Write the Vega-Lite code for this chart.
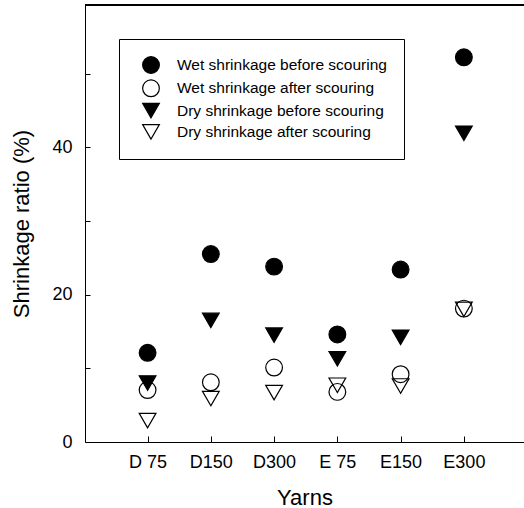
{
  "$schema": "https://vega.github.io/schema/vega-lite/v6.json",
  "width": 439,
  "height": 437,
  "autosize": "none",
  "padding": {"left": 85, "top": 5, "right": 0, "bottom": 66},
  "background": "white",
  "config": {
    "view": {"stroke": null},
    "font": "Liberation Sans",
    "axis": {
      "grid": false,
      "domainColor": "black",
      "domainWidth": 1,
      "tickColor": "black",
      "tickWidth": 1,
      "labelColor": "black",
      "titleColor": "black",
      "labelFont": "Liberation Sans",
      "titleFont": "Liberation Sans",
      "titleFontWeight": "normal",
      "labelFontSize": 18,
      "titleFontSize": 22
    },
    "legend": {
      "labelFont": "Liberation Sans"
    }
  },
  "data": {
    "values": [
      {"yarn": "D 75", "series": "Wet shrinkage before scouring", "ratio": 12.1},
      {"yarn": "D150", "series": "Wet shrinkage before scouring", "ratio": 25.5},
      {"yarn": "D300", "series": "Wet shrinkage before scouring", "ratio": 23.8},
      {"yarn": "E 75", "series": "Wet shrinkage before scouring", "ratio": 14.6},
      {"yarn": "E150", "series": "Wet shrinkage before scouring", "ratio": 23.4},
      {"yarn": "E300", "series": "Wet shrinkage before scouring", "ratio": 52.2},
      {"yarn": "D 75", "series": "Wet shrinkage after scouring", "ratio": 7.05},
      {"yarn": "D150", "series": "Wet shrinkage after scouring", "ratio": 8.1},
      {"yarn": "D300", "series": "Wet shrinkage after scouring", "ratio": 10.1},
      {"yarn": "E 75", "series": "Wet shrinkage after scouring", "ratio": 6.8},
      {"yarn": "E150", "series": "Wet shrinkage after scouring", "ratio": 9.2},
      {"yarn": "E300", "series": "Wet shrinkage after scouring", "ratio": 18.1},
      {"yarn": "D 75", "series": "Dry shrinkage before scouring", "ratio": 8.0},
      {"yarn": "D150", "series": "Dry shrinkage before scouring", "ratio": 16.5},
      {"yarn": "D300", "series": "Dry shrinkage before scouring", "ratio": 14.5},
      {"yarn": "E 75", "series": "Dry shrinkage before scouring", "ratio": 11.3},
      {"yarn": "E150", "series": "Dry shrinkage before scouring", "ratio": 14.2},
      {"yarn": "E300", "series": "Dry shrinkage before scouring", "ratio": 41.9},
      {"yarn": "D 75", "series": "Dry shrinkage after scouring", "ratio": 2.9},
      {"yarn": "D150", "series": "Dry shrinkage after scouring", "ratio": 5.9},
      {"yarn": "D300", "series": "Dry shrinkage after scouring", "ratio": 6.7},
      {"yarn": "E 75", "series": "Dry shrinkage after scouring", "ratio": 7.7},
      {"yarn": "E150", "series": "Dry shrinkage after scouring", "ratio": 7.6},
      {"yarn": "E300", "series": "Dry shrinkage after scouring", "ratio": 18.0}
    ]
  },
  "layer": [
    {
      "mark": {"type": "point", "filled": true, "strokeWidth": 1.2, "size": 280, "opacity": 1},
      "encoding": {
        "x": {
          "field": "yarn",
          "type": "nominal",
          "sort": ["D 75", "D150", "D300", "E 75", "E150", "E300"],
          "scale": {"type": "point", "padding": 0.97, "align": 0.51},
          "axis": {"title": "Yarns", "labelAngle": 0, "tickSize": -6, "labelPadding": 17, "titlePadding": 16}
        },
        "y": {
          "field": "ratio",
          "type": "quantitative",
          "scale": {"domain": [0, 59.3], "nice": false, "zero": true},
          "axis": {
            "title": "Shrinkage ratio (%)",
            "values": [0, 10, 20, 30, 40, 50],
            "labelExpr": "datum.value % 20 == 0 ? datum.label : ''",
            "tickSize": -5,
            "labelPadding": 18,
            "titlePadding": 18
          }
        },
        "shape": {
          "field": "series",
          "type": "nominal",
          "scale": {
            "domain": ["Wet shrinkage before scouring", "Wet shrinkage after scouring", "Dry shrinkage before scouring", "Dry shrinkage after scouring"],
            "range": ["circle", "circle", "triangle-down", "triangle-down"]
          },
          "legend": {
            "title": null,
            "orient": "none",
            "legendX": 34,
            "legendY": 34,
            "strokeColor": "black",
            "padding": 17,
            "labelFontSize": 15.5,
            "labelColor": "black",
            "symbolSize": 280,
            "symbolStrokeWidth": 1.2,
            "symbolOffset": 6,
            "labelOffset": 17,
            "rowPadding": 1.3,
            "labelLimit": 400
          }
        },
        "fill": {
          "field": "series",
          "type": "nominal",
          "scale": {
            "domain": ["Wet shrinkage before scouring", "Wet shrinkage after scouring", "Dry shrinkage before scouring", "Dry shrinkage after scouring"],
            "range": ["black", "transparent", "black", "transparent"]
          },
          "legend": {
            "title": null,
            "orient": "none",
            "legendX": 34,
            "legendY": 34,
            "strokeColor": "black",
            "padding": 17,
            "labelFontSize": 15.5,
            "labelColor": "black",
            "symbolSize": 280,
            "symbolStrokeWidth": 1.2,
            "symbolOffset": 6,
            "labelOffset": 17,
            "rowPadding": 1.3,
            "labelLimit": 400
          }
        },
        "stroke": {
          "field": "series",
          "type": "nominal",
          "scale": {
            "domain": ["Wet shrinkage before scouring", "Wet shrinkage after scouring", "Dry shrinkage before scouring", "Dry shrinkage after scouring"],
            "range": ["black", "black", "black", "black"]
          },
          "legend": {
            "title": null,
            "orient": "none",
            "legendX": 34,
            "legendY": 34,
            "strokeColor": "black",
            "padding": 17,
            "labelFontSize": 15.5,
            "labelColor": "black",
            "symbolSize": 280,
            "symbolStrokeWidth": 1.2,
            "symbolOffset": 6,
            "labelOffset": 17,
            "rowPadding": 1.3,
            "labelLimit": 400
          }
        }
      }
    },
    {
      "mark": {"type": "rule", "color": "black", "strokeWidth": 1},
      "encoding": {"y": {"datum": 59.3}}
    }
  ]
}
